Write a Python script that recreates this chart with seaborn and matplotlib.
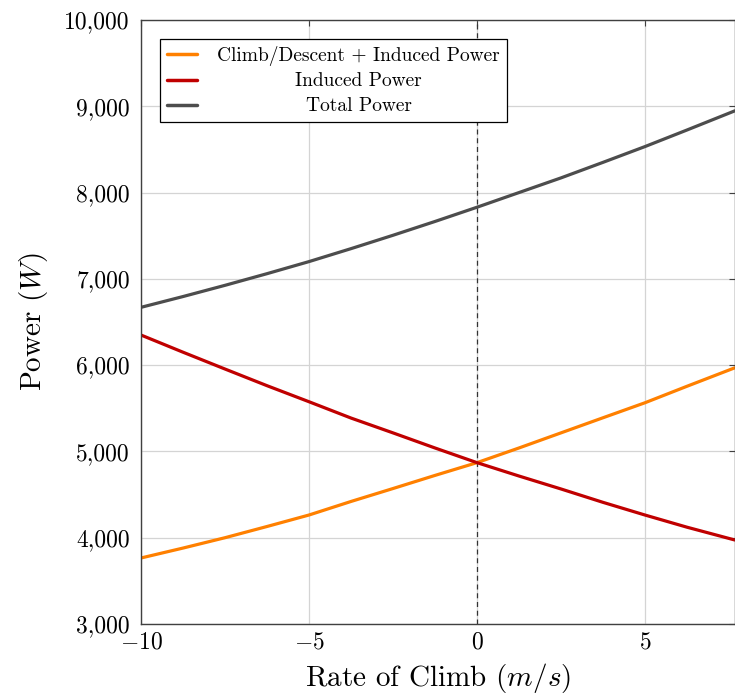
import numpy as np
import pandas as pd
import matplotlib
matplotlib.use("Agg")
import matplotlib.pyplot as plt
from matplotlib.ticker import FuncFormatter
import seaborn as sns

# ------------------------------
# DATA
# ------------------------------
rate_of_climb = [-10, -8.75, -7.5, -6.25, -5, -3.75, -2.5, -1.25, 0,
                 1.25, 2.5, 3.75, 5, 6.25, 7.68]
climb_induced = [3765, 3880, 4000, 4130, 4263, 4420, 4570, 4722, 4870,
                 5040, 5215, 5390, 5564, 5755, 5970]
induced = [6349, 6150, 5955, 5762, 5576, 5387, 5215, 5040, 4870,
           4715, 4565, 4410, 4263, 4122, 3973]
total = [6670, 6795, 6925, 7060, 7200, 7350, 7505, 7665, 7830,
         8000, 8170, 8350, 8533, 8725, 8948]
series_names = ["Climb/Descent + Induced Power", "Induced Power", "Total Power"]
series_colors = ["#ff8000", "#c00000", "#4d4d4d"]

df = pd.concat([
    pd.DataFrame({"roc": rate_of_climb, "power": vals, "series": name})
    for name, vals in zip(series_names, [climb_induced, induced, total])
])

# ------------------------------
# STYLE
# ------------------------------
sns.set_theme(style="whitegrid")
plt.rcParams["font.family"] = "serif"
plt.rcParams["font.serif"] = ["cmr10"]
plt.rcParams["mathtext.fontset"] = "cm"
plt.rcParams["axes.formatter.use_mathtext"] = True
plt.rcParams["axes.unicode_minus"] = True
plt.rcParams["text.color"] = "black"

fig = plt.figure(figsize=(7.35, 6.98), dpi=100)
ax = fig.add_axes([141 / 735, 74 / 698, 1 - 141 / 735, 604 / 698])

sns.lineplot(data=df, x="roc", y="power", hue="series", hue_order=series_names,
             palette=series_colors, linewidth=2.3, ax=ax, legend=True)

ax.axvline(0, color="#333333", linestyle=(0, (4, 3)), linewidth=0.9, zorder=1)

ax.set_xlim(-10, 7.68)
ax.set_ylim(3000, 10000)
ax.set_xticks([-10, -5, 0, 5])
ax.set_yticks(np.arange(3000, 10001, 1000))
ax.yaxis.set_major_formatter(FuncFormatter(lambda v, p: f"{int(v):,}"))

ax.grid(True, color="#d4d4d4", linewidth=0.9)
ax.set_axisbelow(True)
for s in ax.spines.values():
    s.set_color("#404040")
    s.set_linewidth(1.0)
ax.tick_params(direction="in", length=4, width=0.8, color="#404040",
               labelsize=17, top=True, right=True, labelcolor="black")
ax.tick_params(axis="y", pad=8)
ax.tick_params(axis="x", pad=5)

ax.set_xlabel("Rate of Climb $(m/s)$", fontsize=21, color="black", labelpad=6)
ax.set_ylabel("Power $(W)$", fontsize=21, color="black", labelpad=10)

handles, labels = ax.get_legend_handles_labels()
leg = ax.legend(handles, labels, loc="upper left", bbox_to_anchor=(0.032, 0.969),
                fontsize=14, frameon=True, fancybox=False, framealpha=1,
                edgecolor="black", handlelength=1.55, handletextpad=1.05,
                borderpad=0.35, labelspacing=0.36, borderaxespad=0,
                labelcolor="black")
leg.get_frame().set_linewidth(0.9)
for line in leg.get_lines():
    line.set_linewidth(2.5)

# center the legend texts inside their column
fig.canvas.draw()
renderer = fig.canvas.get_renderer()
widths = [t.get_window_extent(renderer).width for t in leg.get_texts()]
for t, w in zip(leg.get_texts(), widths):
    t.set_x((max(widths) - w) / 2)

plt.savefig("out.png", dpi=100)
